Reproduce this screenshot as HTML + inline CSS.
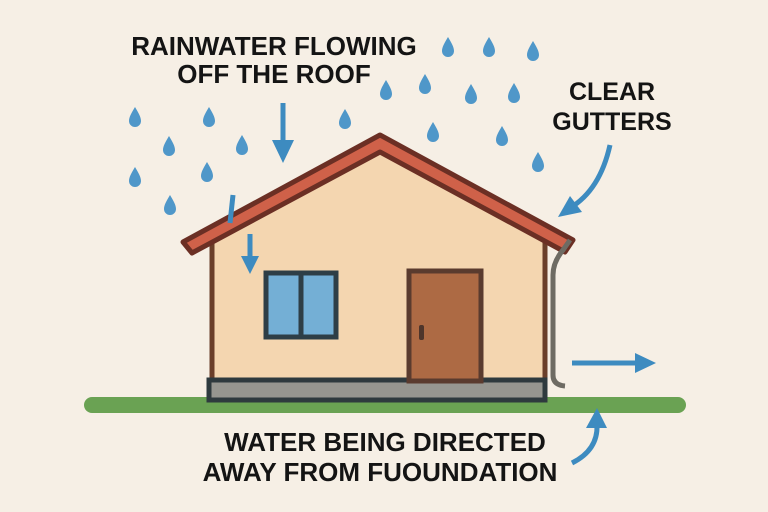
<!DOCTYPE html>
<html><head><style>
body{margin:0;width:768px;height:512px;background:#f6efe5;overflow:hidden}
svg{display:block}
text{font-family:"Liberation Sans",sans-serif;font-weight:bold;fill:#141414}
</style></head><body>
<svg width="768" height="512" viewBox="0 0 768 512">
<defs>
<path id="d" d="M0,-10 C3.5,-4 6,0 6,4 A6,6 0 0 1 -6,4 C-6,0 -3.5,-4 0,-10Z" fill="#4f97c9"/>
</defs>
<g>
<use href="#d" x="135" y="117"/><use href="#d" x="169" y="146"/><use href="#d" x="135" y="177"/>
<use href="#d" x="170" y="205"/><use href="#d" x="209" y="117"/><use href="#d" x="207" y="172"/>
<use href="#d" x="242" y="145"/><use href="#d" x="345" y="119"/><use href="#d" x="386" y="90"/>
<use href="#d" x="425" y="84"/><use href="#d" x="448" y="47"/><use href="#d" x="489" y="47"/>
<use href="#d" x="533" y="51"/><use href="#d" x="471" y="94"/><use href="#d" x="514" y="93"/>
<use href="#d" x="433" y="132"/><use href="#d" x="502" y="136"/><use href="#d" x="538" y="162"/>
</g>
<text x="274" y="55" font-size="26" text-anchor="middle">RAINWATER FLOWING</text>
<text x="274" y="83" font-size="26" text-anchor="middle">OFF THE ROOF</text>
<text x="612" y="100" font-size="25" text-anchor="middle">CLEAR</text>
<text x="612" y="130" font-size="25" text-anchor="middle">GUTTERS</text>
<text x="385" y="451" font-size="26" text-anchor="middle">WATER BEING DIRECTED</text>
<text x="380" y="481" font-size="26" text-anchor="middle">AWAY FROM FUOUNDATION</text>
<line x1="92" y1="405" x2="678" y2="405" stroke="#6aa253" stroke-width="16" stroke-linecap="round"/>
<polygon points="212,240 382,150 545,240 545,383 212,383" fill="#f4d6b0" stroke="#6b3f2a" stroke-width="5"/>
<polygon points="183,242 380,135 573,240 565,252 380,152 192,253" fill="#cf6149" stroke="#6b2f24" stroke-width="5" stroke-linejoin="round"/>
<rect x="209" y="380" width="336" height="20" fill="#969690" stroke="#2e3a3e" stroke-width="5"/>
<rect x="266" y="273" width="70" height="64" fill="#74afd5" stroke="#2e3e46" stroke-width="5"/>
<line x1="301" y1="273" x2="301" y2="337" stroke="#2e3e46" stroke-width="5"/>
<rect x="409" y="271" width="72" height="110" fill="#ad6a44" stroke="#5a3b2e" stroke-width="5"/>
<rect x="419" y="325" width="5" height="15" rx="2" fill="#4e352b"/>
<path d="M570,240 L563,250 Q553,262 553,275 L553,375 Q553,385 565,386" fill="none" stroke="#6e6b63" stroke-width="5"/>
<g stroke="#3d8bc0" stroke-width="5" fill="none">
<line x1="283" y1="103" x2="283" y2="150"/>
<line x1="233" y1="195" x2="230" y2="223"/>
<line x1="250" y1="234" x2="250" y2="260"/>
<path d="M610,145 Q600,190 570,208"/>
<line x1="572" y1="363" x2="640" y2="363"/>
<path d="M572,463 Q598,450 597,425"/>
</g>
<g fill="#3d8bc0">
<polygon points="272,140 294,140 283,163"/>
<polygon points="241,256 259,256 250,274"/>
<polygon points="558,217 570,196 582,212"/>
<polygon points="635,353 656,363 635,373"/>
<polygon points="586,428 597,408 607,428"/>
</g>
</svg>
</body></html>
